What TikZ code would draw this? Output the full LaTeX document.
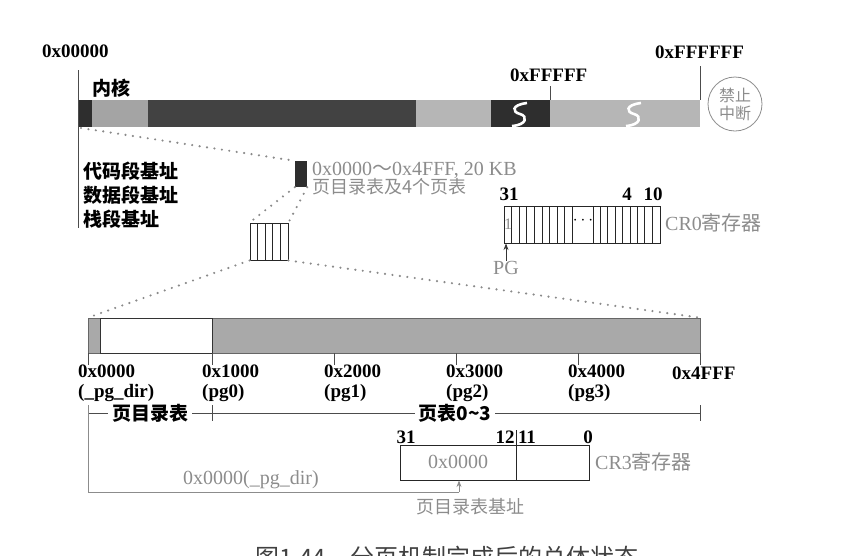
\documentclass[tikz,border=0pt]{standalone}
\usepackage{fontspec}
\setmainfont{Liberation Serif}
\newfontfamily\cjk{Noto Sans CJK SC}
\usetikzlibrary{positioning,arrows.meta}

\definecolor{txtgray}{HTML}{8C8C8C}
\definecolor{blackseg}{HTML}{2E2E2E}
\definecolor{darkseg}{HTML}{424242}
\definecolor{midseg}{HTML}{A4A4A4}
\definecolor{lightseg}{HTML}{B6B6B6}
\definecolor{lowgray}{HTML}{A9A9A9}
\definecolor{dotgray}{HTML}{8A8A8A}

\begin{document}
\begin{tikzpicture}[
    x=1pt, y=-1pt,
    lbl/.style={font=\fontsize{19}{23}\selectfont\bfseries, inner sep=0pt},
    glbl/.style={font=\fontsize{20}{22}\selectfont, text=txtgray, inner sep=0pt},
    dotline/.style={draw=dotgray, line width=2.4pt, line cap=round, dash pattern=on 0pt off 7.5pt},
    regbox/.style={draw=black!85, line width=0.9pt, inner sep=0pt},
    breakmark/.style={draw=white, line width=2.6pt},
    >=Stealth
  ]
  \useasboundingbox (0,0) rectangle (851,555);
  \clip (0,0) rectangle (851,555);

  % Top bar - whole linear address space
  \fill[blackseg] (78,100) rectangle (92,127);
  \fill[midseg]   (92,100) rectangle (148,127);
  \fill[darkseg]  (148,100) rectangle (416,127);
  \fill[lightseg] (416,100) rectangle (491,127);
  \fill[blackseg] (491,100) rectangle (550,127);
  \fill[lightseg] (550,100) rectangle (700,127);
  \draw[breakmark] (527,103) .. controls (511,105) and (512,112) .. (520,114) .. controls (528,116) and (527,125) .. (512,126);
  \draw[breakmark] (641,103) .. controls (625,105) and (626,112) .. (634,114) .. controls (642,116) and (641,125) .. (626,126);
  \coordinate (kstart) at (81,128);

  % Address labels of top bar
  \node[lbl, anchor=west] (lo) at (42,51) {0x00000};
  \node[lbl, anchor=west] (kern) at (92,88) {\cjk 内核};
  \node[lbl, anchor=west] (mid) at (510,75) {0xFFFFF};
  \node[lbl, anchor=west] (hi) at (655,52) {0xFFFFFF};
  \draw[black!70, line width=0.8pt] (78,70) -- (78,228);
  \draw[black!70, line width=0.8pt] (550,86) -- (550,100);
  \draw[black!70, line width=0.8pt] (700,66) -- (700,100);

  % Interrupts disabled
  \node[circle, draw=txtgray, line width=0.8pt, minimum size=54pt, inner sep=0pt, align=center,
        font=\fontsize{16}{18}\selectfont\cjk, text=txtgray] (nomask) at (735,104) {禁止\\中断};

  % Segment bases
  \node[lbl, anchor=west, align=left, font=\fontsize{19}{24}\selectfont\bfseries\cjk] (segs) at (83,195)
    {代码段基址\\数据段基址\\栈段基址};

  % Page directory + tables block
  \node[fill=blackseg, minimum width=12pt, minimum height=26pt, inner sep=0pt] (pdblk) at (301,174) {};
  \node[glbl, anchor=west] (pdtxt) at (312,170) {0x0000{\cjk ～}0x4FFF, 20 KB};
  \node[glbl, anchor=west, font=\fontsize{18}{20}\selectfont\cjk] (pdsub) at (312,187) {页目录表及4个页表};
  \draw[dotline] (kstart) -- (pdblk.north west);

  % Small page grid
  \node[regbox, minimum width=38pt, minimum height=37pt] (ptgrid) at (269,241.5) {};
  \foreach \k in {1,...,4}
    \draw[black!85, line width=0.9pt] ({250+\k*7.6},223) -- ++(0,37);
  \draw[dotline] (pdblk.south west) -- (ptgrid.north west);
  \draw[dotline] (pdblk.south east) -- (ptgrid.north east);

  % CR0 register
  \node[regbox, minimum width=156pt, minimum height=37pt] (cr0) at (582,224.5) {};
  \foreach \k in {1,...,9}
    \draw[black!85, line width=0.9pt] ({504+\k*7.6},206) -- ++(0,37);
  \foreach \k in {0,...,8}
    \draw[black!85, line width=0.9pt] ({593+\k*7.4},206) -- ++(0,37);
  \node[glbl, font=\fontsize{16}{18}\selectfont] (pgbit) at (508,224) {1};
  \node[inner sep=0pt, font=\fontsize{16}{18}\selectfont] (dots) at (583,221) {$\cdots$};
  \node[lbl] (b31) at (509,194) {31};
  \node[lbl] (b4) at (627,194) {4};
  \node[lbl] (b10) at (653,194) {10};
  \node[glbl, anchor=west] (cr0name) at (665,223) {CR0{\cjk 寄存器}};
  \node[glbl] (pg) at (506,268) {PG};
  \draw[->, line width=0.8pt, black!80] (pg.north) -- (pg.north |- cr0.south);

  % Lower bar - 20 KB page area
  \node[fill=lowgray, draw=black!60, line width=0.6pt, minimum width=612pt, minimum height=35pt, inner sep=0pt] (lowbar) at (394,335.5) {};
  \draw[black!80, line width=0.8pt, fill=white] (100,318) rectangle (212,353);
  \draw[dotline] (ptgrid.south west) -- (lowbar.north west);
  \draw[dotline] (ptgrid.south east) -- (lowbar.north east);

  \foreach \x in {88,212,334,456,578,700}
    \draw[black!70, line width=0.8pt] (\x,353) -- (\x,365);
  \foreach \x/\a/\b in {88/0x0000/(\_pg\_dir), 212/0x1000/(pg0), 334/0x2000/(pg1), 456/0x3000/(pg2), 578/0x4000/(pg3)}
    \node[lbl, anchor=west, align=left, font=\fontsize{19}{20}\selectfont\bfseries] at ({\x-10},383) {\a\\\b};
  \node[lbl, anchor=west] (endaddr) at (672,373) {0x4FFF};

  % Extent line
  \draw[black!70, line width=0.8pt] (88,413) -- (700,413);
  \foreach \x in {212,700}
    \draw[black!70, line width=0.8pt] (\x,405) -- (\x,421);
  \node[lbl, fill=white, inner xsep=4pt, font=\fontsize{19}{21}\selectfont\bfseries\cjk] (pdlbl) at (150,413) {页目录表};
  \node[lbl, fill=white, inner xsep=4pt, font=\fontsize{19}{21}\selectfont\bfseries\cjk] (ptlbl) at (455,413) {页表0\textasciitilde3};

  % CR3 register
  \node[regbox, minimum width=189pt, minimum height=35pt] (cr3) at (494.5,462.5) {};
  \draw[black!85, line width=0.9pt] (516,430) -- (516,480);
  \node[lbl] (c31) at (406,437) {31};
  \node[lbl] (c12) at (505,437) {12};
  \node[lbl] (c11) at (527,437) {11};
  \node[lbl] (c0) at (588,437) {0};
  \node[glbl] (cr3val) at (458,462) {0x0000};
  \node[glbl, anchor=west] (cr3name) at (595,462) {CR3{\cjk 寄存器}};

  % Page directory base pointer
  \coordinate (brk) at (459,492);
  \draw[txtgray, line width=0.8pt] (88,405) -- (88,492) -- (brk);
  \draw[->, txtgray, line width=0.8pt] (brk) -- (brk |- cr3.south);
  \node[glbl] (pdaddr) at (251,480) {0x0000(\_pg\_dir)};
  \node[glbl, font=\fontsize{18}{20}\selectfont\cjk] (pdbase) at (470,507) {页目录表基址};

  % Caption (cut off)
  \node[inner sep=0pt, font=\fontsize{24}{26}\selectfont\cjk, text=black!75] (caption) at (447,557) {图1.44\quad 分页机制完成后的总体状态};
\end{tikzpicture}
\end{document}
